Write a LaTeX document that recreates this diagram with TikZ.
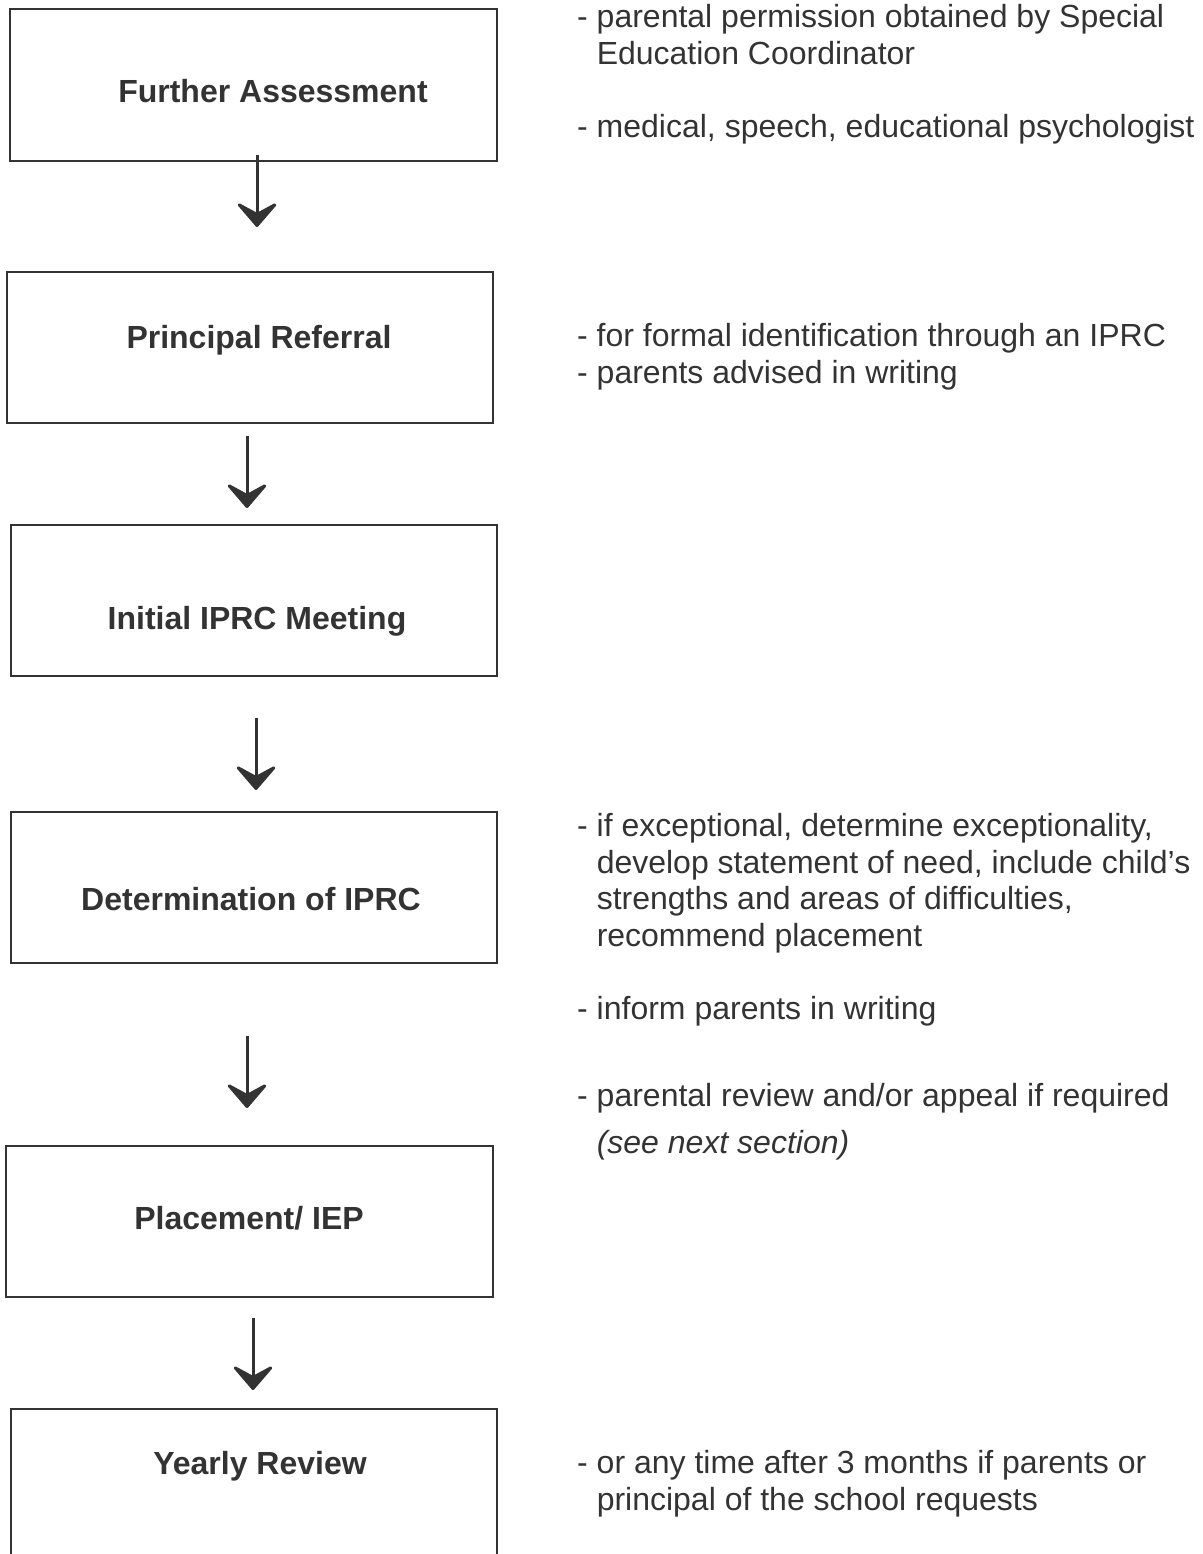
\documentclass[tikz,border=0pt]{standalone}
\usepackage{fontspec}
\setmainfont{Liberation Sans}
\usetikzlibrary{arrows.meta}
\definecolor{mInk}{HTML}{333333}
\colorlet{ColourLine}{mInk}
\colorlet{ColourText}{mInk}
\newcommand{\noteind}{\hphantom{- }}
\tikzset{
  chart style/.style={
    x=1bp, y=-1bp,
    font=\fontsize{32bp}{36.7bp}\selectfont,
    text=ColourText,
  },
  stepbox/.style={
    draw=ColourLine,
    line width=2bp,
    minimum width=486bp,
    minimum height=151bp,
    inner sep=0pt
  },
  steplabel/.style={
    font=\fontsize{32bp}{36.7bp}\selectfont\bfseries,
    anchor=base,
    inner sep=0pt
  },
  note/.style={
    align=left,
    anchor=north west,
    inner sep=0pt
  },
  flow/.style={
    draw=ColourLine,
    line width=3bp,
    -{Stealth[length=28bp,width=48bp,inset=13bp,round]}
  },
}

\begin{document}
\begin{tikzpicture}[chart style]
  \useasboundingbox (0,0) rectangle (1202,1554);
  \node[stepbox] (fa) at (253.5,85) {};
  \node[steplabel] (faL) at (273,102.5) {Further Assessment};
  \node[stepbox] (pr) at (250,347.5) {};
  \node[steplabel] (prL) at (259,348.5) {Principal Referral};
  \node[stepbox] (iim) at (254,600) {};
  \node[steplabel] (iimL) at (257,629.5) {Initial IPRC Meeting};
  \node[stepbox] (doi) at (254,887.5) {};
  \node[steplabel] (doiL) at (251,910.5) {Determination of IPRC};
  \node[stepbox] (pl) at (249.5,1221.5) {};
  \node[steplabel] (plL) at (249,1229.5) {Placement/ IEP};
  \node[stepbox] (yr) at (254,1484.5) {};
  \node[steplabel] (yrL) at (260,1474.5) {Yearly Review};

  \node[note] (faN1) at (577,4) {- parental permission obtained by Special\\\noteind Education Coordinator};
  \node[note] (faN2) at (577,114) {- medical, speech, educational psychologist};
  \node[note] (prN) at (577,323) {- for formal identification through an IPRC\\- parents advised in writing};
  \node[note] (doiN1) at (577,813) {- if exceptional, determine exceptionality,\\\noteind develop statement of need, include child’s\\\noteind strengths and areas of difficulties,\\\noteind recommend placement};
  \node[note] (doiN2) at (577,996) {- inform parents in writing};
  \node[note] (doiN3) at (577,1083) {- parental review and/or appeal if required};
  \node[note] (doiN4) at (577,1130) {\noteind\itshape (see next section)};
  \node[note] (yrN) at (577,1450) {- or any time after 3 months if parents or\\\noteind principal of the school requests};

  \foreach \x/\y [count=\i] in {257/155,247/436,256/718,247/1036,253/1318}{
    \coordinate (arr\i a) at (\x,\y);
    \coordinate (arr\i b) at (\x,\y+72);
    \draw[flow] (arr\i a) -- (arr\i b);
  }
\end{tikzpicture}
\end{document}
